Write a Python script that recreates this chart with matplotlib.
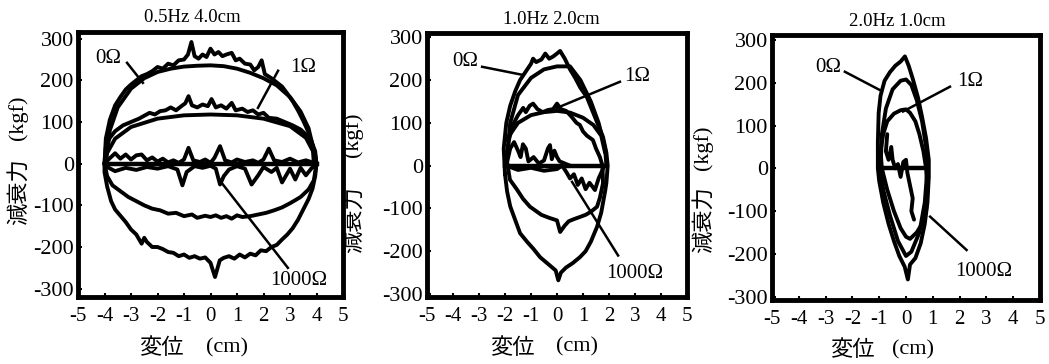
import matplotlib
matplotlib.use("Agg")
import matplotlib.pyplot as plt

plt.rcParams["axes.unicode_minus"] = False

# ---- data (x: cm, y: kgf) ----
TITLES = ["0.5Hz 4.0cm", "1.0Hz 2.0cm", "2.0Hz 1.0cm"]
X_TICKS = [-5, -4, -3, -2, -1, 0, 1, 2, 3, 4, 5]
Y_TICKS = [-300, -200, -100, 0, 100, 200, 300]
Y_LIMS = [(-320, 316), (-307, 310), (-308, 312)]

# panel 1: 0.5 Hz, 4.0 cm
P1_0OHM_X = [-4.0, -3.95, -3.8, -3.6, -3.4, -3.2, -3.0, -2.8, -2.6, -2.4, -2.2, -2.0, -1.8, -1.6, -1.4,
             -1.2, -1.0, -0.85, -0.72, -0.6, -0.45, -0.3, -0.15, 0.0, 0.15, 0.3, 0.45, 0.6, 0.8, 0.95,
             1.1, 1.3, 1.5, 1.65, 1.8, 1.93, 2.05, 2.3, 2.5, 2.7, 2.9, 3.1, 3.3, 3.5, 3.7, 3.85, 3.95,
             4.0, 3.95, 3.85, 3.7, 3.5, 3.3, 3.1, 2.9, 2.7, 2.5, 2.3, 2.1, 1.9, 1.7, 1.5, 1.3, 1.1, 0.9,
             0.7, 0.5, 0.35, 0.17, 0.0, -0.2, -0.4, -0.6, -0.8, -1.0, -1.2, -1.4, -1.6, -1.8, -2.0,
             -2.2, -2.4, -2.5, -2.6, -2.8, -3.0, -3.2, -3.4, -3.6, -3.75, -3.9, -4.0, -4.0]
P1_0OHM_Y = [0, 60, 105, 140, 160, 178, 190, 200, 210, 215, 222, 232, 228, 240, 236,
             248, 250, 262, 292, 258, 252, 262, 256, 276, 262, 268, 258, 262, 266, 248,
             252, 240, 238, 224, 232, 248, 215, 205, 195, 185, 168, 150, 128, 103, 75, 45, 20,
             0, -30, -60, -85, -110, -135, -155, -170, -182, -195, -200, -210, -208, -220, -216, -225, -218, -228,
             -222, -226, -232, -272, -238, -225, -228, -222, -226, -218, -222, -214, -212, -205, -200,
             -200, -188, -178, -192, -170, -158, -140, -125, -110, -90, -55, -20, 0]
P1_0OHM_IN_X = [-3.95, -3.8, -3.5, -3.0, -2.5, -2.0, -1.5, -1.0, -0.5, 0.0, 0.5, 1.0, 1.5, 2.0, 2.5, 3.0, 3.4, 3.7, 3.85, 3.9]
P1_0OHM_IN_Y = [0, 80, 135, 180, 205, 220, 228, 233, 235, 236, 234, 228, 218, 205, 188, 160, 125, 85, 45, 0]

P1_1OHM_X = [-4.0, -3.95, -3.8, -3.6, -3.3, -3.0, -2.7, -2.5, -2.3, -2.1, -1.9, -1.7, -1.5, -1.3, -1.1,
             -0.95, -0.83, -0.7, -0.5, -0.3, -0.1, 0.04, 0.2, 0.4, 0.6, 0.8, 0.95, 1.2, 1.4, 1.6, 1.8,
             2.0, 2.2, 2.5, 2.8, 3.1, 3.4, 3.6, 3.8, 3.95, 4.0,
             3.9, 3.7, 3.4, 3.19, 3.0, 2.7, 2.4, 2.1, 1.8, 1.5, 1.2, 1.0, 0.8, 0.6, 0.4, 0.2, 0.0,
             -0.2, -0.5, -0.7, -1.0, -1.3, -1.6, -1.9, -2.2, -2.5, -2.8, -3.1, -3.4, -3.7, -3.9, -4.0]
P1_1OHM_Y = [0, 40, 62, 78, 92, 100, 108, 115, 122, 118, 126, 128, 135, 128, 138,
             145, 162, 140, 135, 142, 138, 155, 135, 140, 132, 146, 128, 132, 124, 128, 118,
             122, 110, 108, 100, 92, 82, 70, 55, 30, 0,
             -40, -62, -80, -88, -95, -105, -112, -118, -122, -126, -128, -124, -132, -126, -130, -124, -128,
             -125, -130, -122, -126, -118, -120, -112, -108, -100, -90, -80, -66, -52, -30, 0]
P1_1OHM_IN_X = [-3.95, -3.6, -3.0, -2.0, -1.0, 0.0, 1.0, 2.0, 3.0, 3.6, 3.95]
P1_1OHM_IN_Y = [20, 60, 88, 108, 116, 118, 116, 108, 90, 62, 20]

P1_1000OHM_X = [-4.0, -3.85, -3.6, -3.4, -3.2, -3.0, -2.8, -2.6, -2.4, -2.2, -2.0, -1.8, -1.6, -1.4, -1.2,
                -1.0, -0.83, -0.65, -0.4, -0.2, 0.0, 0.15, 0.36, 0.55, 0.8, 1.0, 1.3, 1.6, 1.8, 2.0,
                2.2, 2.4, 2.7, 3.0, 3.3, 3.6, 3.9, 4.0,
                3.8, 3.6, 3.4, 3.2, 3.0, 2.7, 2.5, 2.3, 2.0, 1.8, 1.55, 1.3, 1.0, 0.7, 0.5, 0.36, 0.2,
                0.0, -0.3, -0.6, -0.9, -1.06, -1.25, -1.6, -2.0, -2.4, -2.8, -3.2, -3.6, -3.9, -4.0]
P1_1000OHM_Y = [0, 10, 25, 12, 22, 10, 20, 22, 8, 15, 5, 12, 3, 8, 2,
                10, 38, 8, 4, 10, 2, 14, 42, 8, 3, 10, 4, 8, 2, 10,
                36, 8, 4, 12, 3, 8, 2, 0,
                -12, -28, -10, -38, -12, -45, -10, -20, -8, -28, -50, -12, -6, -14, -30, -50, -12,
                -5, -10, -6, -20, -52, -14, -6, -12, -8, -15, -10, -18, -8, 0]
P1_ZERO_X = [-4.0, 4.0]

# panel 2: 1.0 Hz, 2.0 cm
P2_0OHM_X = [-2.0, -2.05, -1.95, -1.8, -1.6, -1.42, -1.2, -1.0, -0.92, -0.8, -0.6, -0.45, -0.3, -0.15,
             0.0, 0.12, 0.3, 0.5, 0.7, 0.9, 1.15, 1.35, 1.55, 1.77, 1.9, 1.95,
             1.9, 1.85, 1.7, 1.54, 1.3, 1.1, 0.88, 0.6, 0.35, 0.15, 0.05, -0.05, -0.3, -0.65, -0.9,
             -1.15, -1.42, -1.65, -1.8, -1.92, -2.0]
P2_0OHM_Y = [-20, 40, 100, 140, 175, 200, 220, 238, 250, 242, 248, 262, 250, 255,
             262, 268, 250, 225, 205, 182, 160, 130, 100, 67, 30, 0,
             -40, -60, -110, -143, -178, -200, -214, -228, -238, -250, -268, -245, -232, -214, -195,
             -178, -158, -120, -95, -60, -20]
P2_0OHM_IN_X = [-1.95, -1.8, -1.5, -1.0, -0.5, 0.0, 0.5, 0.9, 1.3, 1.6, 1.85, 1.9]
P2_0OHM_IN_Y = [0, 100, 165, 205, 225, 232, 232, 200, 150, 100, 40, 0]

P2_1OHM_X = [-1.95, -1.85, -1.7, -1.5, -1.3, -1.2, -1.05, -0.92, -0.75, -0.55, -0.35, -0.15, 0.0, 0.15,
             0.35, 0.55, 0.75, 0.88, 1.0, 1.15, 1.38, 1.5, 1.65, 1.75,
             1.77, 1.65, 1.54, 1.3, 1.1, 0.88, 0.65, 0.45, 0.3, 0.12, 0.0, -0.3, -0.6, -1.04, -1.3,
             -1.55, -1.81, -1.95]
P2_1OHM_Y = [20, 60, 95, 118, 135, 125, 140, 145, 132, 125, 130, 132, 145, 132,
             128, 115, 100, 95, 80, 70, 60, 40, 20, 0,
             -41, -75, -96, -108, -115, -120, -125, -130, -140, -155, -128, -122, -115, -96, -78,
             -55, -33, 20]
P2_1OHM_IN_X = [-1.95, -1.5, -1.0, -0.5, 0.0, 0.5, 1.0, 1.4, 1.7, 1.85]
P2_1OHM_IN_Y = [60, 100, 118, 125, 128, 124, 112, 95, 70, 30]

P2_1000OHM_UP_X = [-1.95, -1.8, -1.65, -1.5, -1.4, -1.31, -1.2, -1.1, -0.9, -0.7, -0.5, -0.35, -0.27,
                   -0.2, -0.1, 0.0, 0.1, 0.3, 0.5]
P2_1000OHM_UP_Y = [0, 40, 55, 35, 20, 50, 40, 10, 20, 5, 12, 40, 48, 15, 35, 20, 10, 5, 0]
P2_1000OHM_LO_X = [-1.95, -1.5, -1.0, -0.5, 0.0, 0.2, 0.38, 0.5, 0.65, 0.8, 0.95, 1.1, 1.25, 1.46, 1.6, 1.75, 1.8]
P2_1000OHM_LO_Y = [0, -10, -5, -12, -8, 0, -17, -30, -20, -45, -30, -55, -40, -57, -30, -10, 0]
P2_ZERO_X = [-2.0, 1.8]

# panel 3: 2.0 Hz, 1.0 cm
P3_0OHM_X = [-1.05, -1.05, -1.02, -0.95, -0.8, -0.6, -0.4, -0.2, -0.04, 0.1, 0.25, 0.45, 0.6, 0.75, 0.85,
             0.85, 0.8, 0.7, 0.55, 0.35, 0.15, 0.07, -0.05, -0.25, -0.45, -0.65, -0.85, -1.0, -1.05]
P3_0OHM_Y = [0, 60, 130, 170, 205, 225, 240, 250, 262, 240, 210, 165, 120, 70, 20,
             -20, -80, -130, -175, -210, -225, -260, -230, -205, -170, -130, -80, -30, 0]
P3_0OHM_IN_X = [-0.95, -0.9, -0.75, -0.5, -0.2, 0.0, 0.2, 0.4, 0.6, 0.75, 0.8,
                0.7, 0.5, 0.2, 0.0, -0.3, -0.6, -0.85, -0.95]
P3_0OHM_IN_Y = [0, 80, 140, 185, 205, 208, 195, 160, 110, 50, 0,
                -80, -150, -195, -205, -170, -110, -50, 0]
P3_1OHM_X = [-0.95, -0.85, -0.7, -0.45, -0.2, 0.0, 0.15, 0.35, 0.5, 0.65, 0.75, 0.8,
             0.75, 0.6, 0.4, 0.15, 0.0, -0.2, -0.45, -0.7, -0.9, -0.95]
P3_1OHM_Y = [40, 80, 110, 128, 136, 138, 130, 110, 80, 40, 0, -50,
             -100, -130, -150, -165, -160, -140, -100, -50, 0, 40]
P3_1000OHM_X = [-0.7, -0.75, -0.65, -0.55, -0.5, -0.4, -0.3, -0.2, -0.1, 0.0, 0.05, 0.15, 0.25, 0.2, 0.3]
P3_1000OHM_Y = [80, 40, 20, 50, 20, 0, 10, -20, 15, 20, -10, -40, -70, -100, -120]
P3_ZERO_X = [-0.95, 0.7]

# callouts: (text, text position, line start, line end)
P1_LABELS = [("0Ω", (-3.87, 252), (-3.15, 242), (-2.55, 194)),
             ("1Ω", (3.49, 230), (2.55, 223), (1.79, 134)),
             ("1000Ω", (3.34, -281), (2.92, -250), (0.36, -41))]
P2_LABELS = [("0Ω", (-3.54, 243), (-2.88, 231), (-1.31, 212)),
             ("1Ω", (3.1, 208), (2.42, 196), (0.0, 135)),
             ("1000Ω", (3.0, -252), (2.35, -210), (0.58, -38))]
P3_LABELS = [("0Ω", (-2.9, 235), (-2.28, 226), (-0.97, 183)),
             ("1Ω", (2.39, 203), (1.64, 191), (-0.11, 133)),
             ("1000Ω", (2.9, -242), (2.26, -191), (0.9, -113))]

W, H = 1049, 364
SERIF = "Liberation Serif"
CJK = "Noto Sans CJK JP"


def fpos(x_px, y_px):
    return x_px / W, 1 - y_px / H


fig = plt.figure(figsize=(W / 100, H / 100), dpi=100)
fig.patch.set_facecolor("white")

# axes frames in pixels: left, top, right, bottom
frames = [(78, 32, 343, 297), (427, 33, 687, 297), (772, 35, 1040, 300)]
axes = []
for (l, t, r, b) in frames:
    ax = fig.add_axes([l / W, 1 - b / H, (r - l) / W, (b - t) / H])
    axes.append(ax)

traces = [
    [(P1_0OHM_X, P1_0OHM_Y), (P1_0OHM_IN_X, P1_0OHM_IN_Y), (P1_1OHM_X, P1_1OHM_Y),
     (P1_1OHM_IN_X, P1_1OHM_IN_Y), (P1_1000OHM_X, P1_1000OHM_Y)],
    [(P2_0OHM_X, P2_0OHM_Y), (P2_0OHM_IN_X, P2_0OHM_IN_Y), (P2_1OHM_X, P2_1OHM_Y),
     (P2_1OHM_IN_X, P2_1OHM_IN_Y), (P2_1000OHM_UP_X, P2_1000OHM_UP_Y),
     (P2_1000OHM_LO_X, P2_1000OHM_LO_Y)],
    [(P3_0OHM_X, P3_0OHM_Y), (P3_0OHM_IN_X, P3_0OHM_IN_Y), (P3_1OHM_X, P3_1OHM_Y),
     (P3_1000OHM_X, P3_1000OHM_Y)],
]
zeros = [P1_ZERO_X, P2_ZERO_X, P3_ZERO_X]
labels = [P1_LABELS, P2_LABELS, P3_LABELS]

for i, ax in enumerate(axes):
    for xs, ys in traces[i]:
        ax.plot(xs, ys, color="black", lw=2.8, solid_joinstyle="round", solid_capstyle="round")
    ax.plot(zeros[i], [0, 0], color="black", lw=3.2)
    for text, tpos, p0, p1 in labels[i]:
        ax.plot([p0[0], p1[0]], [p0[1], p1[1]], color="black", lw=1.8)
        ax.text(tpos[0], tpos[1], text, ha="center", va="center", fontsize=15,
                family=SERIF, clip_on=False)
    ax.set_xlim(-5, 5)
    ax.set_ylim(*Y_LIMS[i])
    ax.set_xticks(X_TICKS)
    ax.set_yticks(Y_TICKS)
    ax.tick_params(direction="in", length=3, width=1.5, pad=3)
    ax.tick_params(axis="y", labelsize=16)
    ax.tick_params(axis="x", labelsize=15, pad=7)
    for lab in ax.get_xticklabels() + ax.get_yticklabels():
        lab.set_fontfamily(SERIF)
    for sp in ax.spines.values():
        sp.set_linewidth(3.5)

# titles
for (x, y), t in zip([(192, 17), (551, 19), (897, 21)], TITLES):
    fig.text(*fpos(x, y), t, ha="center", va="center", fontsize=13.5, family=SERIF)

# x labels
for x1, x2, y in [(161, 227, 348), (512, 577, 347), (852, 913, 350)]:
    fig.text(*fpos(x1, y), "変位", ha="center", va="center", fontsize=16, family=CJK)
    fig.text(*fpos(x2, y), "(cm)", ha="center", va="center", fontsize=16, family=SERIF)

# y labels
for x, y1, y2 in [(18, 192, 118), (353, 220, 135), (703, 220, 148)]:
    fig.text(*fpos(x, y1), "減衰力", ha="center", va="center", fontsize=16, family=CJK, rotation=90)
    fig.text(*fpos(x, y2), "(kgf)", ha="center", va="center", fontsize=16, family=SERIF, rotation=90)

fig.savefig("out.png", dpi=100)
